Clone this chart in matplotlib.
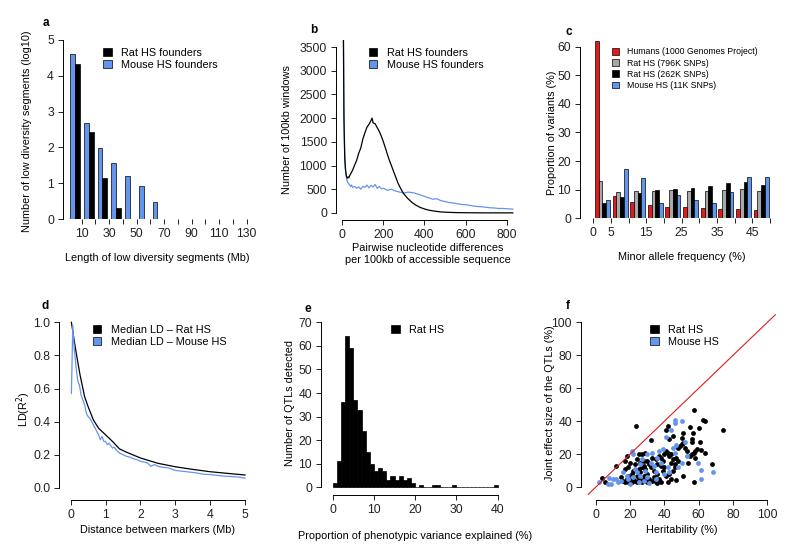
import numpy as np
import matplotlib.pyplot as plt
from matplotlib.patches import Patch

plt.rcParams['font.family'] = ['Liberation Sans', 'DejaVu Sans']
plt.rcParams['font.size'] = 7.5

BLUE = 'cornflowerblue'
RED = '#E31A1C'
GRAY = '#A8A8A8'

# ---------------- data ----------------
# a: log10 number of low diversity segments per 10 Mb bin
a_bins = [0, 10, 20, 30, 40, 50, 60, 70, 80, 90, 100, 110, 120]
a_mouse = [4.62, 2.67, 1.98, 1.56, 1.21, 0.91, 0.48, 0, 0, 0, None, None, 0]
a_rat = [4.33, 2.42, 1.15, 0.30, None, None, None, None, None, None, None, None, None]
a_ticks = [10, 20, 30, 40, 50, 60, 70, 80, 90, 100, 110, 120, 130]
a_ticklabels = ['10', '', '30', '', '50', '', '70', '', '90', '', '110', '', '130']

# b: pairwise differences per 100kb window
b_rat_x = [2, 5, 8, 12, 16, 20, 24, 28, 32, 36, 40, 50, 60, 70, 80, 90, 100, 110, 120,
           130, 140, 145, 150, 160, 170, 180, 190, 200, 210, 220, 230, 240, 250, 260, 270,
           280, 290, 300, 320, 340, 360, 380, 400, 420, 440, 460, 480, 500, 550, 600, 650,
           700, 750, 800, 830]
b_rat_y = [6000, 4000, 2000, 1150, 900, 780, 735, 760, 740, 790, 820, 900, 1010, 1110, 1260,
           1370, 1560, 1690, 1810, 1870, 1950, 2000, 1900, 1880, 1800, 1720, 1620, 1500, 1370,
           1230, 1100, 990, 870, 760, 640, 550, 470, 400, 300, 220, 160, 115, 85, 60, 45, 32,
           22, 16, 8, 5, 3, 2, 2, 2, 2]
b_mouse_x = [2, 4, 6, 8, 10, 12, 15, 18, 22, 26, 30, 35, 40, 45, 50, 60, 70, 80, 90, 100,
             110, 120, 130, 140, 150, 160, 170, 180, 190, 200, 220, 240, 260, 280, 300, 320,
             340, 360, 380, 400, 420, 440, 460, 480, 500, 520, 540, 560, 580, 600, 620, 640,
             660, 680, 700, 720, 740, 760, 780, 800, 830]
b_mouse_y = [6000, 5000, 3600, 2300, 1600, 1200, 950, 800, 700, 650, 620, 600, 560, 590, 540,
             560, 520, 550, 500, 560, 540, 590, 530, 580, 550, 600, 520, 560, 510, 520, 480,
             500, 460, 440, 420, 440, 430, 410, 380, 350, 320, 290, 300, 260, 240, 220, 210,
             195, 180, 175, 160, 145, 135, 130, 120, 110, 105, 95, 95, 90, 80]

# c: minor allele frequency spectrum (%)
c_bins = [0, 5, 10, 15, 20, 25, 30, 35, 40, 45]
c_human = [62.0, 7.8, 5.6, 4.7, 4.1, 3.8, 3.5, 3.3, 3.2, 2.9]
c_rat796 = [13.0, 9.3, 9.6, 9.4, 9.9, 9.7, 9.7, 10.0, 10.3, 9.7]
c_rat262 = [5.5, 7.3, 9.0, 10.0, 10.4, 10.7, 11.3, 12.2, 12.8, 11.5]
c_mouse = [6.5, 17.3, 14.0, 5.4, 8.0, 6.5, 5.4, 9.1, 14.3, 14.4]
c_ticks = [0, 5, 10, 15, 20, 25, 30, 35, 40, 45, 50]
c_ticklabels = ['0', '5', '', '15', '', '25', '', '35', '', '45', '']

# d: LD decay
d_rat_x = [0.02, 0.05, 0.1, 0.17, 0.27, 0.4, 0.5, 0.65, 0.8, 1.0, 1.2, 1.4, 1.6, 2.0, 2.5,
           3.0, 3.5, 4.0, 4.5, 5.0]
d_rat_y = [1.0, 0.96, 0.89, 0.80, 0.68, 0.55, 0.49, 0.41, 0.36, 0.32, 0.28, 0.235, 0.215,
           0.18, 0.148, 0.127, 0.111, 0.097, 0.087, 0.077]
d_mouse_x = [0.02, 0.06, 0.1, 0.14, 0.17, 0.2, 0.25, 0.3, 0.35, 0.4, 0.45, 0.5, 0.55, 0.6,
             0.7, 0.75, 0.8, 0.85, 0.9, 0.95, 1.0, 1.05, 1.1, 1.2, 1.25, 1.3, 1.4, 1.5, 1.6,
             1.7, 1.8, 1.9, 2.0, 2.1, 2.2, 2.3, 2.4, 2.5, 2.6, 2.8, 3.0, 3.2, 3.4, 3.6, 3.8,
             4.0, 4.2, 4.4, 4.6, 4.8, 5.0]
d_mouse_y = [0.57, 0.98, 0.84, 0.76, 0.70, 0.65, 0.62, 0.56, 0.53, 0.50, 0.45, 0.43, 0.42,
             0.40, 0.36, 0.34, 0.32, 0.29, 0.31, 0.28, 0.28, 0.26, 0.27, 0.24, 0.245, 0.23,
             0.21, 0.20, 0.19, 0.185, 0.175, 0.17, 0.16, 0.155, 0.15, 0.13, 0.14, 0.13, 0.125,
             0.12, 0.105, 0.10, 0.095, 0.09, 0.082, 0.08, 0.075, 0.07, 0.068, 0.065, 0.058]

# e: histogram of QTL effect sizes (1% bins)
e_edges = list(range(0, 40))
e_counts = [2, 11, 36, 64, 59, 37, 33, 24, 15, 10, 7, 8, 7, 3, 5, 3, 5, 3, 4, 2,
            0, 1, 0, 0, 1, 1, 0, 0, 0, 1, 0, 0, 0, 0, 0, 0, 0, 0, 0, 1]

# f: heritability vs joint QTL effect size
f_rat_x = [4, 5.5, 12, 17, 18, 23.5, 32, 15, 16, 17, 18, 19, 20, 21, 22, 23, 24, 25, 26, 27,
           28, 29, 30, 19, 21, 24, 26, 28, 30, 22, 25, 27, 29, 31, 33, 35, 36, 38, 34, 17, 19,
           20, 23, 24, 26, 28, 30, 27, 29, 25, 32, 33, 35, 36, 37, 38, 39, 40, 41, 42, 36, 34,
           31, 28, 40, 41, 42, 39, 38, 43, 44, 45, 46, 47, 48, 44, 41, 43, 45, 42, 49, 50, 51,
           52, 50, 51, 53, 48, 47, 51, 57.5, 55, 57.5, 60, 62.5, 63.5, 74, 56.5, 56, 56, 60.5,
           57, 58, 56, 59, 61.5, 63.5, 68, 55, 54, 58, 45, 43, 46, 37, 44]
f_rat_y = [5.5, 3.5, 12.7, 16, 19, 37, 28.5, 6, 4, 3, 5, 3.5, 4.5, 3, 5, 4, 3, 5, 4, 3, 5,
           4, 3, 7, 8, 7, 9, 7, 8, 10, 11, 12, 11, 5, 4, 3, 2.5, 3, 6, 11, 12, 15, 14, 17, 15,
           13, 16, 20, 21, 20, 12, 18, 17, 14, 19, 13, 10, 12, 7, 3, 8, 10, 14, 16, 20, 22, 21,
           16, 18, 19, 15, 17, 14, 18, 16, 20, 35, 29, 31, 37, 25, 26, 27, 24, 30, 33, 22, 24,
           4.5, 7, 3.5, 36.5, 47, 36, 40.5, 40, 34.5, 33, 29.5, 27.5, 27.5, 21, 22, 20, 23,
           22.5, 20.5, 14, 19, 15, 18, 10, 8, 12, 5, 5]
f_mouse_x = [2, 7, 9, 10, 8, 13, 16, 18, 19, 20, 21, 22, 23, 24, 25, 26, 28, 30, 31, 32, 33,
             34, 35, 36, 37, 38, 39, 40, 41, 43, 44, 46, 46.5, 50, 47, 52, 48, 50, 46, 53,
             59.5, 61.5, 61.5, 68.5, 26, 29, 12, 15, 22, 27, 30, 35, 42, 45]
f_mouse_y = [3, 2, 1.8, 5, 5.5, 3, 9, 7, 5, 2, 22, 20, 11, 9, 3, 7, 4, 6, 2.5, 15, 21, 13,
             9, 18, 22, 15, 23, 8, 30.5, 9, 35, 40.5, 39, 40, 25.5, 27.5, 12, 15, 21, 19,
             14.5, 10.5, 5, 9, 14, 10, 5, 4, 6, 17, 20, 5, 12, 24]

# ---------------- figure ----------------
W, H = 800, 556
TICK_FS = 8.8
LAB_FS = 7.8
fig = plt.figure(figsize=(W / 100, H / 100), dpi=100)


def add_ax(left, top, right, bottom):
    return fig.add_axes([left / W, 1 - bottom / H, (right - left) / W, (bottom - top) / H])


def r_axes(ax, xbounds, ybounds, xline=True):
    for s in ['top', 'right']:
        ax.spines[s].set_visible(False)
    ax.spines['left'].set_bounds(*ybounds)
    ax.spines['left'].set_linewidth(0.7)
    if xline:
        ax.spines['bottom'].set_bounds(*xbounds)
        ax.spines['bottom'].set_linewidth(0.7)
    else:
        ax.spines['bottom'].set_visible(False)
    ax.tick_params(direction='out', length=3.5, width=0.7, labelsize=TICK_FS, pad=3,
                   colors='#222222')


def place_label(ax, which, text, px, py):
    bb = ax.get_position()
    fx = (px / W - bb.x0) / bb.width
    fy = ((1 - py / H) - bb.y0) / bb.height
    if which == 'y':
        ax.set_ylabel(text, va='center', ha='center', fontsize=LAB_FS)
        ax.yaxis.set_label_coords(fx, fy)
    else:
        ax.set_xlabel(text, va='center', ha='center', fontsize=LAB_FS, linespacing=1.15)
        ax.xaxis.set_label_coords(fx, fy)


def legend_at(ax, colors, labels, px, py, fs=LAB_FS, spacing=0.15):
    handles = [Patch(facecolor=c, edgecolor='black', linewidth=0.5) for c in colors]
    ax.legend(handles, labels, loc='upper left', bbox_to_anchor=(px / W, 1 - py / H),
              bbox_transform=fig.transFigure, frameon=False, fontsize=fs,
              handlelength=0.8, handleheight=0.8, handletextpad=0.9, borderpad=0,
              borderaxespad=0, labelspacing=spacing)


def tag(px, py, s):
    fig.text(px / W, 1 - py / H, s, weight='bold', fontsize=8.5, ha='center', va='center')


# ---- a ----
ax = add_ax(63, 40, 249.5, 219)
ax.set_xlim(-3.6, 132)
ax.set_ylim(0, 5)
for l, m, r in zip(a_bins, a_mouse, a_rat):
    if m is not None:
        ax.bar(l + 3.3, m, width=3.6, color=BLUE, edgecolor='black', linewidth=0.5)
    if r is not None:
        ax.bar(l + 6.9, r, width=3.6, color='black', edgecolor='black', linewidth=0.5)
r_axes(ax, None, (0, 5), xline=False)
ax.set_xticks(a_ticks)
ax.set_xticklabels(a_ticklabels)
ax.set_yticks(range(6))
place_label(ax, 'y', 'Number of low diversity segments (log10)', 27, 131)
place_label(ax, 'x', 'Length of low diversity segments (Mb)', 157, 258)
legend_at(ax, ['black', BLUE], ['Rat HS founders', 'Mouse HS founders'], 103, 48)
tag(46, 23, 'a')

# ---- b ----
ax = add_ax(336, 40.4, 519.6, 219.6)
ax.set_xlim(-30.6, 863)
ax.set_ylim(-140, 3640)
ax.plot(b_mouse_x, b_mouse_y, color=BLUE, linewidth=0.9)
ax.plot(b_rat_x, b_rat_y, color='black', linewidth=0.9)
r_axes(ax, (0, 800), (0, 3500))
ax.set_xticks(range(0, 801, 200))
ax.set_yticks(range(0, 3501, 500))
place_label(ax, 'y', 'Number of 100kb windows', 287, 130)
place_label(ax, 'x', 'Pairwise nucleotide differences\nper 100kb of accessible sequence', 428, 254)
legend_at(ax, ['black', BLUE], ['Rat HS founders', 'Mouse HS founders'], 368.5, 48)
tag(314, 30, 'b')

# ---- c ----
ax = add_ax(580, 38.1, 774.4, 218.3)
ax.set_xlim(-3.77, 51.3)
ax.set_ylim(0, 63)
for i, (vals, col) in enumerate(zip([c_human, c_rat796, c_rat262, c_mouse],
                                    [RED, GRAY, 'black', BLUE])):
    ax.bar([b + 0.45 + 1.06 * i for b in c_bins], vals, width=1.06, align='edge',
           color=col, edgecolor='black', linewidth=0.5)
r_axes(ax, None, (0, 60), xline=False)
ax.set_xticks(c_ticks)
ax.set_xticklabels(c_ticklabels)
ax.set_yticks(range(0, 61, 10))
place_label(ax, 'y', 'Proportion of variants (%)', 552, 133)
place_label(ax, 'x', 'Minor allele frequency (%)', 682, 257)
legend_at(ax, [RED, GRAY, 'black', BLUE],
          ['Humans (1000 Genomes Project)', 'Rat HS (796K SNPs)', 'Rat HS (262K SNPs)',
           'Mouse HS (11K SNPs)'], 611.7, 47.5, fs=6.3, spacing=0.25)
tag(569, 32, 'c')

# ---- d ----
ax = add_ax(59.3, 310.1, 256.4, 500)
ax.set_xlim(-0.327, 5.327)
ax.set_ylim(-0.074, 1.074)
ax.plot(d_rat_x, d_rat_y, color='black', linewidth=0.9)
ax.plot(d_mouse_x, d_mouse_y, color=BLUE, linewidth=0.9)
r_axes(ax, (0, 5), (0, 1))
ax.set_xticks(range(6))
ax.set_yticks([0, 0.2, 0.4, 0.6, 0.8, 1.0])
ax.set_yticklabels(['0.0', '0.2', '0.4', '0.6', '0.8', '1.0'])
place_label(ax, 'y', 'LD(R$^2$)', 23.5, 409)
place_label(ax, 'x', 'Distance between markers (Mb)', 158, 530)
legend_at(ax, ['black', BLUE], ['Median LD \u2013 Rat HS', 'Median LD \u2013 Mouse HS'], 92.5, 325)
tag(45, 306, 'd')

# ---- e ----
ax = add_ax(321, 314.6, 509.4, 495)
ax.set_xlim(-2.84, 42.84)
ax.set_ylim(-3.27, 73.27)
ax.bar(e_edges, e_counts, width=1, align='edge', color='black', edgecolor='black',
       linewidth=0.5)
r_axes(ax, (0, 40), (0, 70))
ax.set_xticks(range(0, 41, 10))
ax.set_yticks(range(0, 71, 10))
place_label(ax, 'y', 'Number of QTLs detected', 290, 403)
place_label(ax, 'x', 'Proportion of phenotypic variance explained (%)', 415, 536)
legend_at(ax, ['black'], ['Rat HS'], 391, 325)
tag(308, 309, 'e')

# ---- f ----
ax = add_ax(581, 309.6, 782, 500)
ax.set_xlim(-8.5, 108.5)
ax.set_ylim(-7.7, 107.7)
ref = [-4.3, 104.6]
ax.plot(ref, ref, color=RED, linewidth=0.8)
ax.scatter(f_rat_x, f_rat_y, s=12, color='black', linewidths=0)
ax.scatter(f_mouse_x, f_mouse_y, s=12, color=BLUE, linewidths=0)
r_axes(ax, (0, 100), (0, 100))
ax.set_xticks(range(0, 101, 20))
ax.set_yticks(range(0, 101, 20))
place_label(ax, 'y', 'Joint effect size of the QTLs (%)', 550, 403)
place_label(ax, 'x', 'Heritability (%)', 682, 530)
legend_at(ax, ['black', BLUE], ['Rat HS', 'Mouse HS'], 650, 325)
tag(568, 306, 'f')

fig.savefig('out.png', dpi=100, facecolor='white')
